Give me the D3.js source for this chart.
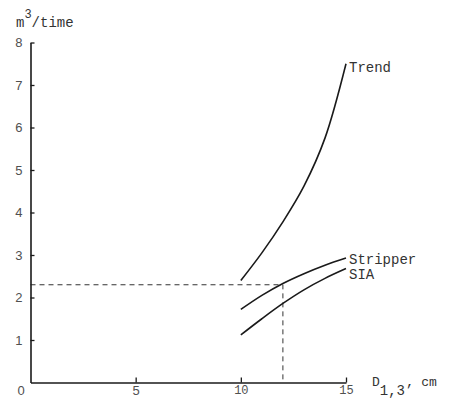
<!DOCTYPE html>
<html>
<head>
<meta charset="utf-8">
<script src="https://cdn.jsdelivr.net/npm/d3@7"></script>
<style>
    body { margin: 0; background: #fff; }
    svg { display: block; }
</style>
</head>
<body>
<script>
"use strict";
(function () {

    // Data
    const diameters = [10, 11, 12, 13, 14, 15]
    const trend = [2.4, 3.05, 3.78, 4.62, 5.75, 7.5]
    const stripper = [1.72, 2.05, 2.33, 2.56, 2.76, 2.93]
    const sia = [1.12, 1.5, 1.86, 2.18, 2.45, 2.68]
    const seriesNames = ["Trend", "Stripper", "SIA"]
    const labelOffsets = [2, 0, 4]   // small vertical nudge so SIA does not sit on Stripper
    const yTicks = [1, 2, 3, 4, 5, 6, 7, 8]
    const xTicks = [0, 5, 10, 15]
    const guideX = 12
    const guideY = 2.3

    const measurements = {
        width: 456,
        height: 398
    }

    const mono = "'Liberation Mono', 'DejaVu Sans Mono', monospace"
    const sans = "'Liberation Sans', Arial, sans-serif"
    const ink = "#1a1a1a"
    const grey = "#505050"

    let svgContainer = d3.select("body").append("svg")
        .attr("width", measurements.width)
        .attr("height", measurements.height)

    let scaleX = d3.scaleLinear()
        .domain([0, 15])
        .range([30.5, 346])

    let scaleY = d3.scaleLinear()
        .domain([0, 8])
        .range([382.5, 42.5])

    // dashed guide lines
    const guide = d3.line()
        .x(function (d) { return scaleX(d[0]) })
        .y(function (d) { return scaleY(d[1]) })

    svgContainer.append("path")
        .attr("d", guide([[0, guideY], [guideX, guideY], [guideX, 0]]))
        .attr("fill", "none")
        .attr("stroke", "#333")
        .attr("stroke-width", 1)
        .attr("stroke-dasharray", "5,4")

    // y axis, ticks pointing into the plot
    let yAxis = d3.axisLeft(scaleY)
        .tickValues(yTicks)
        .tickSizeInner(-4)
        .tickSizeOuter(0)
        .tickPadding(8)
        .tickFormat(d3.format("d"))

    let gy = svgContainer.append("g")
        .attr("transform", "translate(" + scaleX(0) + ",0)")
        .call(yAxis)
    gy.select(".domain").attr("stroke", ink).attr("stroke-width", 1.6)
    gy.selectAll(".tick line").attr("stroke", ink).attr("stroke-width", 1.3)
    gy.selectAll(".tick text")
        .attr("fill", grey)
        .style("font-family", sans)
        .style("font-size", "13px")

    // x axis, ticks pointing up
    let xAxis = d3.axisBottom(scaleX)
        .tickValues(xTicks)
        .tickSizeInner(-5)
        .tickSizeOuter(0)
        .tickPadding(8)
        .tickFormat(d3.format("d"))

    let gx = svgContainer.append("g")
        .attr("transform", "translate(0," + scaleY(0) + ")")
        .call(xAxis)
    gx.select(".domain").attr("stroke", ink).attr("stroke-width", 1.6)
    gx.selectAll(".tick line")
        .attr("stroke", ink)
        .attr("stroke-width", 1.3)
        .attr("opacity", function (d) { return d === 0 ? 0 : 1 })
    gx.selectAll(".tick text")
        .attr("fill", grey)
        .attr("dx", function (d) { return d === 0 ? -10 : 0 })
        .attr("y", 3)
        .style("font-family", function (d) { return d >= 10 ? mono : sans })
        .style("font-size", function (d) { return d >= 10 ? "12px" : "13px" })

    // curves
    const allSeries = [trend, stripper, sia]
    const line = d3.line()
        .curve(d3.curveCatmullRom)
        .x(function (d, i) { return scaleX(diameters[i]) })
        .y(function (d) { return scaleY(d) })

    svgContainer.selectAll(".curve")
        .data(allSeries)
        .enter()
        .append("path")
        .attr("class", "curve")
        .attr("d", line)
        .attr("fill", "none")
        .attr("stroke", ink)
        .attr("stroke-width", 1.6)

    // series labels at the curve ends
    svgContainer.selectAll(".label")
        .data(seriesNames)
        .enter()
        .append("text")
        .attr("class", "label")
        .attr("x", scaleX(15) + 3)
        .attr("y", function (d, i) { return scaleY(allSeries[i][allSeries[i].length - 1]) + 6 + labelOffsets[i] })
        .attr("fill", "#333")
        .style("font-family", mono)
        .style("font-size", "14px")
        .text(function (d) { return d })

    // axis titles
    let yTitle = svgContainer.append("text")
        .attr("x", 16)
        .attr("y", 27)
        .attr("fill", "#333")
        .style("font-family", mono)
        .style("font-size", "14px")
    yTitle.append("tspan").text("m")
    yTitle.append("tspan").attr("dy", -9).style("font-size", "12px").text("3")
    yTitle.append("tspan").attr("dy", 9).text("/time")

    let xTitle = svgContainer.append("text")
        .attr("x", 372)
        .attr("y", 386)
        .attr("fill", "#333")
        .style("font-family", mono)
        .style("font-size", "13px")
    xTitle.append("tspan").text("D")
    xTitle.append("tspan").attr("dy", 9).style("font-size", "14px").text("1,3’")
    xTitle.append("tspan").attr("dy", -9).text(" cm")

})()
</script>
</body>
</html>
